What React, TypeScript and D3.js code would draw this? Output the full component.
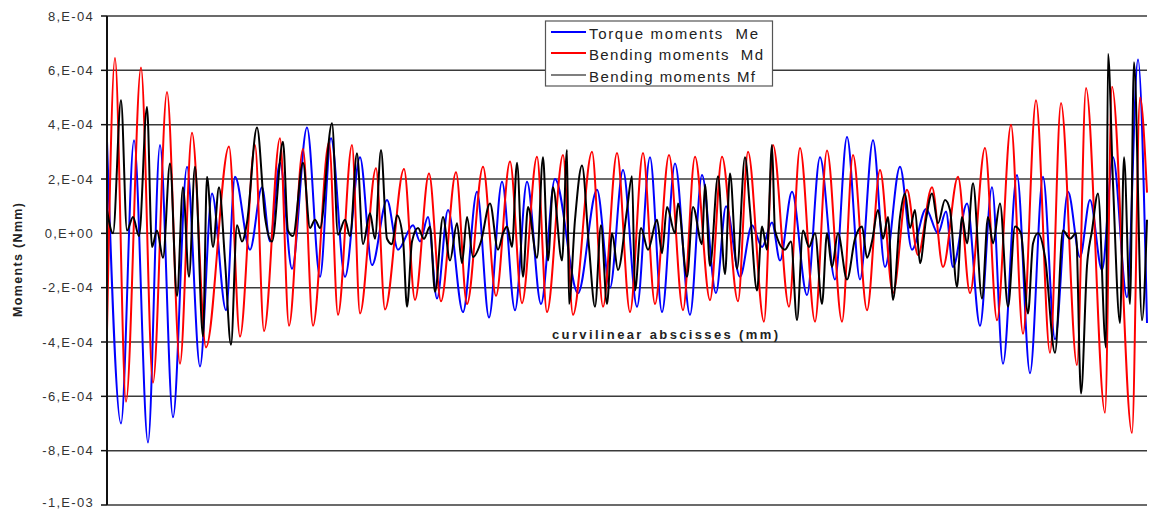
import React from 'react';
import * as d3 from 'd3';

const WIDTH = 1149;
const HEIGHT = 510;
const PLOT = { left: 107, right: 1147, top: 16, bottom: 505 };

// Moment axis, values expressed in units of 1e-4 N·mm
const yTicks = [8, 6, 4, 2, 0, -2, -4, -6, -8, -10];
const yTickLabels = ['8,E-04', '6,E-04', '4,E-04', '2,E-04', '0,E+00', '-2,E-04', '-4,E-04', '-6,E-04', '-8,E-04', '-1,E-03'];

// Curvilinear abscissa span (mm)
const abscissaDomain = [0, 1040];

// Torque moments Me: abscissa of each extremum and its value
const meAbscissa = [
  0, 14, 27, 41, 53, 66, 80, 93, 105, 119,
  128, 143, 155, 163, 173, 185, 200, 213, 224, 238,
  253, 265, 280, 291, 306, 313, 321, 330, 341, 356,
  370, 382, 395, 408, 420, 434, 448, 471, 490, 503,
  516, 530, 543, 555, 568, 583, 595, 609, 619, 633,
  645, 655, 665, 673, 685, 700, 713, 728, 740, 753,
  766, 778, 793, 805, 819, 831, 839, 846, 860, 873,
  885, 896, 910, 923, 936, 948, 961, 973, 983, 995,
  1006, 1020, 1031, 1040,
];
const meValues = [
  3.4, -7.0, 3.43, -7.7, 3.25, -6.77, 2.45, -4.9, 1.47, -2.83,
  2.08, -0.6, 1.7, -0.3, 2.6, -1.3, 3.9, -1.6, 3.5, -1.6,
  2.8, -1.17, 1.23, -0.6, 0.3, -0.3, 0.6, -2.4, 0.86, -2.9,
  1.53, -3.1, 1.9, -2.83, 1.9, -2.6, 2.0, -2.2, 1.6, -2.0,
  2.33, -2.7, 2.8, -2.9, 2.57, -3.0, 2.15, -2.2, 1.0, -1.6,
  0.3, -0.5, 0.4, -1.0, 1.53, -2.27, 2.8, -1.7, 3.55, -1.7,
  3.43, -1.24, 2.45, -0.6, 0.9, 0.0, 0.8, -1.24, 1.1, -3.4,
  1.7, -4.8, 2.15, -5.15, 2.08, -3.9, 1.53, -0.87, 1.23, -1.35,
  2.8, -2.35, 6.4, -3.3,
];

// Bending moments Md
const mdAbscissa = [
  0, 8, 19, 34, 46, 60, 73, 85, 99, 122,
  133, 148, 157, 173, 182, 196, 206, 222, 231, 245,
  253, 269, 278, 297, 308, 322, 334, 349, 360, 376,
  389, 403, 415, 430, 440, 456, 466, 485, 496, 510,
  523, 536, 548, 562, 576, 588, 603, 615, 631, 641,
  657, 666, 682, 693, 708, 720, 735, 746, 760, 773,
  786, 800, 811, 825, 836, 851, 863, 878, 890, 904,
  916, 929, 943, 954, 970, 979, 998, 1005, 1025, 1033,
  1040,
];
const mdValues = [
  -3.6, 6.45, -6.2, 6.1, -5.5, 5.2, -4.8, 3.7, -4.2, 3.2,
  -3.8, 3.25, -3.6, 3.5, -3.4, 3.1, -3.4, 3.35, -3.0, 3.25,
  -2.95, 2.4, -2.8, 2.37, -2.45, 2.2, -2.5, 2.25, -2.6, 2.45,
  -2.3, 2.64, -2.57, 2.82, -2.9, 2.88, -3.0, 3.0, -2.7, 2.96,
  -2.9, 2.96, -2.6, 2.88, -2.83, 2.82, -2.46, 2.82, -2.5, 3.0,
  -3.25, 3.25, -2.7, 3.14, -3.25, 3.05, -3.25, 2.88, -2.83, 2.33,
  -2.2, 1.6, -0.8, 1.7, -1.24, 2.08, -2.2, 3.14, -3.2, 4.0,
  -3.7, 4.9, -4.4, 4.8, -4.85, 5.35, -6.6, 5.4, -7.35, 5.0,
  1.5,
];

// Bending moments Mf
const mfAbscissa = [
  0, 6, 14, 20, 26, 32, 40, 45, 50, 56,
  63, 70, 76, 82, 88, 96, 100, 106, 112, 118,
  124, 130, 135, 140, 150, 158, 165, 176, 181, 186,
  196, 203, 208, 213, 225, 231, 238, 243, 250, 256,
  263, 268, 274, 280, 285, 290, 296, 300, 305, 311,
  317, 323, 328, 336, 343, 350, 355, 360, 366, 374,
  383, 391, 396, 400, 405, 410, 416, 421, 430, 436,
  441, 446, 455, 460, 462, 468, 475, 482, 488, 494,
  500, 505, 511, 520, 525, 528, 534, 541, 550, 555,
  560, 568, 571, 580, 586, 595, 598, 603, 611, 618,
  623, 630, 638, 643, 650, 655, 660, 665, 668, 678,
  684, 690, 696, 702, 708, 715, 720, 725, 731, 740,
  748, 755, 760, 765, 771, 776, 781, 786, 793, 798,
  803, 808, 813, 819, 825, 831, 838, 843, 850, 855,
  860, 866, 875, 881, 886, 893, 901, 908, 914, 921,
  926, 931, 938, 948, 956, 963, 969, 974, 980, 985,
  991, 999, 1001, 1006, 1013, 1017, 1023, 1027, 1035, 1040,
];
const mfValues = [
  0.86, 0.0, 4.9, 0.1, 0.6, -0.1, 4.65, -0.5, 0.1, -0.9,
  2.57, -2.3, 1.7, -1.6, 2.45, -3.8, 2.08, -0.5, 1.7, -1.0,
  -4.1, 0.3, -0.3, 0.4, 3.9, 0.6, -0.3, 3.37, 0.1, -0.1,
  2.6, 0.2, 0.5, 0.2, 4.05, -0.05, 0.5, -0.1, 2.95, -0.4,
  0.74, -0.2, 3.07, -0.2, -0.4, 0.67, -0.2, -2.7, -0.3, 0.2,
  -0.2, 0.25, -2.15, 0.6, -1.0, 0.37, -1.1, 0.6, -0.87, -0.3,
  1.1, -0.6, 0.0, 0.25, -0.5, 2.6, -1.6, 0.97, -0.9, 2.8,
  -1.0, 1.7, -1.0, 3.07, -2.6, 0.5, 2.5, -0.5, -2.7, 0.3,
  -2.6, 0.0, -1.35, 0.86, 2.1, -2.1, 0.2, -0.6, 0.5, -0.73,
  0.97, 0.0, 1.1, -1.6, 0.97, -0.4, 1.8, -1.2, 2.1, -1.5,
  2.2, -1.3, 2.8, 0.86, -2.1, 0.25, -0.6, 3.25, 0.1, -0.6,
  -0.3, -3.2, 0.1, -0.5, 0.0, -2.6, 0.0, -1.24, 0.0, -1.7,
  -0.2, 0.25, -0.9, -0.3, 0.86, -0.2, 0.6, -2.45, 0.6, 1.47,
  0.2, 0.86, -1.1, 0.5, 1.47, 0.37, 1.23, 0.86, -1.97, 0.6,
  -0.37, 1.84, -2.4, 0.6, -0.37, 1.1, -2.7, 0.25, 0.0, -2.95,
  -0.37, 0.0, -0.87, -4.4, 0.1, -0.2, 0.0, -5.9, -1.2, 0.1,
  1.47, -4.2, 6.6, 1.84, -3.3, 2.8, -2.6, 6.3, -3.2, 0.5,
];

const seriesNames = ['Torque moments  Me', 'Bending moments  Md', 'Bending moments Mf'];
const seriesColors = ['#0000ff', '#ff0000', '#000000'];
const seriesAbscissa = [meAbscissa, mdAbscissa, mfAbscissa];
const seriesValues = [meValues, mdValues, mfValues];

const FONT = '"Liberation Sans", Arial, Helvetica, sans-serif';

export default function App() {
  const x = d3.scaleLinear().domain(abscissaDomain).range([PLOT.left, PLOT.right]);
  const y = d3.scaleLinear().domain([-10, 8]).range([PLOT.bottom, PLOT.top]);

  const line = d3
    .line<[number, number]>()
    .x((d) => x(d[0]))
    .y((d) => y(d[1]))
    .curve(d3.curveMonotoneX);

  const paths = seriesNames.map((name, i) => {
    const pts: [number, number][] = seriesAbscissa[i].map((a, k) => [a, seriesValues[i][k]]);
    return { name, color: seriesColors[i], d: line(pts) || '' };
  });

  const legendRows = [32, 53, 75];
  const legendTextLengths = [169, 174, 166];

  return (
    <svg
      width={WIDTH}
      height={HEIGHT}
      style={{ position: 'absolute', left: 0, top: 0, background: '#ffffff' }}
      fontFamily={FONT}
    >
      {/* horizontal gridlines */}
      {yTicks.map((t) => (
        <line
          key={'g' + t}
          x1={PLOT.left}
          x2={PLOT.right}
          y1={y(t)}
          y2={y(t)}
          stroke="#3a3a3a"
          strokeWidth={1.5}
        />
      ))}

      {/* series */}
      {paths.map((p) => (
        <path key={p.name} d={p.d} fill="none" stroke={p.color} strokeWidth={2} strokeLinejoin="round" />
      ))}

      {/* vertical axis */}
      <line x1={PLOT.left} x2={PLOT.left} y1={PLOT.top} y2={PLOT.bottom} stroke="#111" strokeWidth={2} />
      {yTicks.map((t, i) => (
        <g key={'t' + t}>
          <line x1={PLOT.left - 6} x2={PLOT.left} y1={y(t)} y2={y(t)} stroke="#111" strokeWidth={1.5} />
          <text
            x={94}
            y={Math.min(y(t) + 4.5, HEIGHT - 3)}
            textAnchor="end"
            fontSize={13}
            letterSpacing={1.3}
            fill="#333"
          >
            {yTickLabels[i]}
          </text>
        </g>
      ))}

      {/* axis titles */}
      <text
        transform={`translate(18,260) rotate(-90)`}
        textAnchor="middle"
        dominantBaseline="central"
        fontSize={12.5}
        fontWeight="bold"
        fill="#222"
        textLength={114}
        lengthAdjust="spacing"
      >
        Moments (Nmm)
      </text>
      <text
        x={665}
        y={334}
        textAnchor="middle"
        dominantBaseline="central"
        fontSize={13}
        fontWeight="bold"
        fill="#222"
        textLength={226}
        lengthAdjust="spacing"
      >
        curvilinear abscisses (mm)
      </text>

      {/* legend */}
      <rect x={545.5} y={21} width={227} height={65} fill="#fff" stroke="#555" strokeWidth={1.2} />
      {paths.map((p, i) => (
        <g key={'l' + p.name}>
          <line
            x1={551}
            x2={586}
            y1={legendRows[i]}
            y2={legendRows[i]}
            stroke={p.color}
            strokeWidth={i === 2 ? 1.2 : 2}
          />
          <text
            x={589}
            y={legendRows[i] + 1}
            dominantBaseline="central"
            fontSize={15}
            fill="#222"
            textLength={legendTextLengths[i]}
            lengthAdjust="spacing"
            style={{ whiteSpace: 'pre' }}
          >
            {p.name}
          </text>
        </g>
      ))}
    </svg>
  );
}
